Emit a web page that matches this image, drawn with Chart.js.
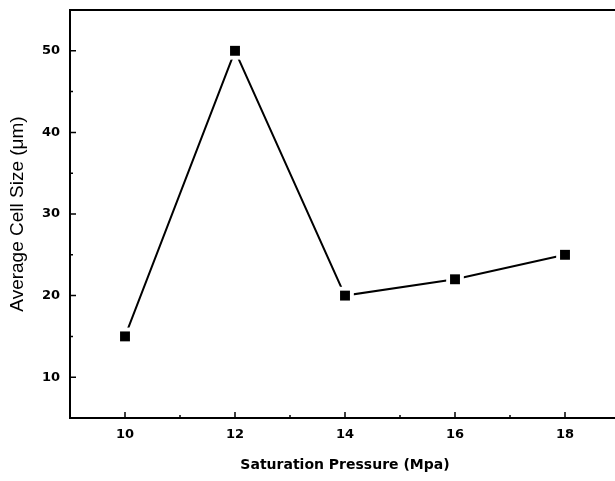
<!DOCTYPE html>
<html>
<head>
<meta charset="utf-8">
<script src="https://cdn.jsdelivr.net/npm/chart.js@4/dist/chart.umd.min.js"></script>
<style>
  html, body { margin: 0; padding: 0; background: #fff; overflow: hidden; }
  #wrap { width: 625px; height: 481px; }
</style>
</head>
<body>
<div id="wrap"><canvas id="lineChart" width="625" height="481"></canvas></div>
<script>
// data
const pressure = [10, 12, 14, 16, 18];
const cellSize = [15, 50, 20, 22, 25];
const xTicks = [10, 12, 14, 16, 18];
const yTicks = [10, 20, 30, 40, 50];
const xMinor = [11, 13, 15, 17];
const yMinor = [15, 25, 35, 45];

document.addEventListener('DOMContentLoaded', function(){
  const ctx = document.getElementById('lineChart');
  const points = pressure.map((p, i) => ({ x: p, y: cellSize[i] }));
  const tickFont = { family: 'DejaVu Sans', size: 13, weight: 'bold' };

  // frame top edge + ticks pointing into the plot, like the original
  const innerTicks = {
    id: 'innerTicks',
    afterDraw(chart){
      const c = chart.ctx, a = chart.chartArea;
      const xs = chart.scales.x, ys = chart.scales.y;
      c.save();
      c.strokeStyle = '#000';
      c.lineWidth = 2;
      c.beginPath();
      c.moveTo(a.left - 1, a.top);
      c.lineTo(a.right, a.top);
      c.stroke();
      c.lineWidth = 1.5;
      c.beginPath();
      xTicks.forEach(v => { const px = xs.getPixelForValue(v); c.moveTo(px, a.bottom); c.lineTo(px, a.bottom - 6); });
      xMinor.forEach(v => { const px = xs.getPixelForValue(v); c.moveTo(px, a.bottom); c.lineTo(px, a.bottom - 3); });
      yTicks.forEach(v => { const py = ys.getPixelForValue(v); c.moveTo(a.left, py); c.lineTo(a.left + 6, py); });
      yMinor.forEach(v => { const py = ys.getPixelForValue(v); c.moveTo(a.left, py); c.lineTo(a.left + 3, py); });
      c.stroke();
      c.restore();
    }
  };

  new Chart(ctx, {
    type: 'scatter',
    data: {
      datasets: [
        { data: points, pointStyle: 'rect', pointRadius: 7, pointHoverRadius: 7,
          backgroundColor: '#000', borderColor: '#000', borderWidth: 0, showLine: false },
        { data: points, pointStyle: 'rect', pointRadius: 12.5, pointHoverRadius: 12.5,
          backgroundColor: '#fff', borderColor: '#fff', borderWidth: 0, showLine: false },
        { data: points, showLine: true, pointRadius: 0, borderColor: '#000',
          borderWidth: 2, tension: 0 }
      ]
    },
    options: {
      responsive: false,
      animation: false,
      layout: { autoPadding: false, padding: { top: 10, right: 5, left: 0, bottom: 0 } },
      plugins: { legend: { display: false }, tooltip: { enabled: false } },
      scales: {
        x: {
          type: 'linear', min: 9, max: 19,
          afterBuildTicks: s => { s.ticks = xTicks.map(v => ({ value: v })); },
          afterFit: s => { s.height = 63; s.paddingLeft = 0; s.paddingRight = 0; },
          grid: { drawOnChartArea: false, drawTicks: false },
          border: { display: true, color: '#000', width: 2 },
          ticks: { color: '#000', font: tickFont, padding: 9, maxRotation: 0 },
          title: { display: true, text: 'Saturation Pressure (Mpa)', color: '#000',
                   font: { family: 'DejaVu Sans', size: 14, weight: 'bold' }, padding: { top: 0, bottom: 7 } }
        },
        y: {
          type: 'linear', min: 5, max: 55,
          afterBuildTicks: s => { s.ticks = yTicks.map(v => ({ value: v })); },
          afterFit: s => { s.width = 70; s.paddingTop = 0; s.paddingBottom = 0; },
          grid: { drawOnChartArea: false, drawTicks: false },
          border: { display: true, color: '#000', width: 2 },
          ticks: { color: '#000', font: tickFont, padding: 10 },
          title: { display: true, text: 'Average Cell Size (μm)', color: '#000',
                   font: { family: 'Liberation Sans', size: 19 }, padding: { top: 6, bottom: 0 } }
        }
      }
    },
    plugins: [innerTicks]
  });
});
</script>
</body>
</html>
